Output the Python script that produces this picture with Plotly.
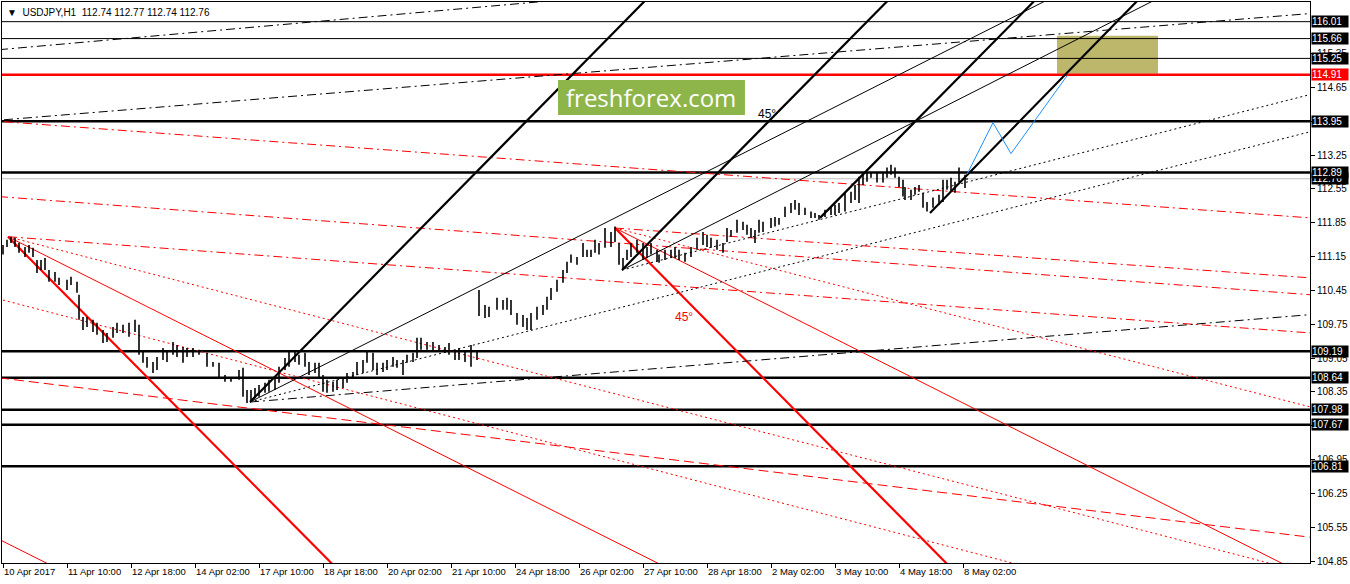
import plotly.graph_objects as go

# USDJPY H1 bars, x = bar number counted from 10 Apr 02:00
bar_index = [0, 2, 4, 6, 8, 11, 13, 15, 17, 19,
             21, 23, 26, 28, 32, 34, 37, 38, 40, 42,
             45, 47, 50, 52, 55, 57, 60, 63, 66, 68,
             70, 72, 75, 77, 80, 82, 85, 87, 90, 92,
             95, 98, 102, 105, 108, 111, 114, 118, 120, 122,
             124, 126, 128, 131, 133, 136, 138, 141, 143, 146,
             148, 151, 153, 156, 158, 160, 162, 165, 167, 170,
             172, 175, 177, 180, 182, 185, 187, 190, 192, 195,
             197, 200, 202, 205, 207, 209, 212, 215, 218, 221,
             223, 226, 228, 231, 234, 237, 238, 241, 243, 247,
             250, 252, 254, 257, 260, 262, 264, 267, 270, 272,
             274, 277, 280, 282, 284, 287, 290, 292, 294, 296,
             298, 301, 304, 306, 308, 310, 312, 314, 317, 320,
             322, 324, 327, 328, 331, 334, 336, 338, 341, 344,
             347, 350, 352, 354, 357, 360, 362, 364, 367, 370,
             372, 374, 376, 378, 380, 384, 386, 388, 391, 394,
             396, 398, 401, 404, 406, 408, 411, 414, 416, 418,
             421, 424, 426, 428, 430, 432, 434, 437, 440, 442,
             444, 446, 448, 450, 451, 454, 456, 458, 460, 462,
             465, 468, 470, 472, 474, 476, 478, 481, 482]
bar_high = [111.39, 111.50, 111.56, 111.54, 111.43, 111.35, 111.39, 111.33, 111.08, 111.08,
            111.12, 110.87, 110.83, 110.71, 110.67, 110.73, 110.63, 110.36, 109.90, 109.90,
            109.84, 109.78, 109.63, 109.57, 109.69, 109.78, 109.74, 109.78, 109.84, 109.74,
            109.18, 109.07, 108.97, 109.07, 109.26, 109.18, 109.38, 109.32, 109.28, 109.26,
            109.26, 109.22, 109.16, 108.97, 108.95, 108.70, 108.66, 108.80, 108.85, 108.39,
            108.39, 108.43, 108.49, 108.54, 108.60, 108.66, 108.87, 109.05, 109.18, 109.18,
            109.12, 109.16, 108.97, 108.95, 108.95, 108.70, 108.60, 108.56, 108.60, 108.66,
            108.74, 108.76, 108.97, 109.01, 109.18, 109.16, 108.95, 108.95, 109.01, 109.07,
            109.01, 109.01, 109.12, 109.16, 109.47, 109.47, 109.38, 109.38, 109.32, 109.28,
            109.36, 109.22, 109.26, 109.18, 109.32, 109.18, 110.46, 110.15, 110.11, 110.30,
            110.25, 110.30, 110.25, 109.98, 109.94, 109.88, 109.98, 110.11, 110.15, 110.32,
            110.50, 110.67, 110.87, 111.04, 111.19, 111.14, 111.43, 111.29, 111.29, 111.50,
            111.43, 111.74, 111.66, 111.77, 111.43, 111.12, 111.29, 111.43, 111.50, 111.43,
            111.35, 111.43, 111.29, 111.19, 111.29, 111.29, 111.35, 111.29, 111.23, 111.35,
            111.54, 111.66, 111.60, 111.54, 111.50, 111.43, 111.74, 111.70, 111.91, 111.87,
            111.81, 111.74, 111.70, 111.91, 111.87, 111.95, 111.97, 111.95, 112.18, 112.26,
            112.32, 112.26, 112.16, 112.08, 112.05, 112.01, 112.12, 112.18, 112.22, 112.26,
            112.47, 112.49, 112.63, 112.80, 112.84, 112.88, 112.90, 112.88, 112.88, 112.99,
            113.05, 112.99, 112.80, 112.74, 112.59, 112.53, 112.59, 112.63, 112.47, 112.28,
            112.37, 112.43, 112.74, 112.74, 112.78, 112.70, 112.99, 112.84, 112.77]
bar_low = [111.19, 111.35, 111.43, 111.35, 111.23, 111.14, 111.23, 111.14, 110.81, 110.87,
           110.87, 110.63, 110.63, 110.56, 110.46, 110.56, 110.40, 109.84, 109.63, 109.69,
           109.59, 109.53, 109.36, 109.38, 109.47, 109.57, 109.57, 109.49, 109.59, 109.12,
           108.95, 108.85, 108.74, 108.80, 109.01, 108.97, 109.12, 109.07, 108.95, 109.07,
           109.07, 109.12, 108.87, 108.87, 108.66, 108.56, 108.56, 108.60, 108.25, 108.12,
           108.14, 108.22, 108.25, 108.33, 108.35, 108.39, 108.54, 108.80, 108.87, 108.97,
           108.91, 108.87, 108.70, 108.74, 108.66, 108.35, 108.33, 108.35, 108.39, 108.43,
           108.54, 108.66, 108.70, 108.74, 108.95, 108.80, 108.70, 108.76, 108.80, 108.87,
           108.85, 108.70, 108.95, 108.97, 109.05, 109.22, 109.22, 109.18, 109.18, 109.16,
           109.12, 109.01, 109.01, 108.97, 108.87, 109.01, 109.92, 109.88, 109.90, 110.05,
           110.05, 110.05, 109.94, 109.74, 109.69, 109.63, 109.63, 109.84, 109.94, 110.05,
           110.25, 110.42, 110.61, 110.81, 111.02, 110.98, 111.14, 111.14, 111.14, 111.23,
           111.19, 111.33, 111.35, 111.45, 110.98, 110.87, 111.08, 111.14, 111.23, 111.08,
           111.12, 111.19, 111.04, 111.02, 111.08, 111.12, 111.12, 111.08, 111.04, 111.14,
           111.29, 111.39, 111.35, 111.33, 111.29, 111.23, 111.45, 111.56, 111.64, 111.70,
           111.60, 111.54, 111.43, 111.64, 111.66, 111.74, 111.77, 111.81, 111.97, 112.05,
           112.12, 112.01, 112.01, 111.95, 111.95, 111.91, 111.97, 112.01, 112.01, 112.05,
           112.08, 112.26, 112.32, 112.26, 112.63, 112.70, 112.78, 112.68, 112.68, 112.78,
           112.84, 112.78, 112.59, 112.39, 112.32, 112.32, 112.43, 112.49, 112.16, 112.08,
           112.16, 112.22, 112.28, 112.53, 112.49, 112.47, 112.68, 112.57, 112.74]

tick_bars = [0, 32, 64, 96, 128, 160, 192, 224, 256, 288, 320, 352, 384, 416, 448, 480]
tick_text = ["10 Apr 2017", "11 Apr 10:00", "12 Apr 18:00", "14 Apr 02:00", "17 Apr 10:00",
             "18 Apr 18:00", "20 Apr 02:00", "21 Apr 10:00", "24 Apr 18:00", "26 Apr 02:00",
             "27 Apr 10:00", "28 Apr 18:00", "2 May 02:00", "3 May 10:00", "4 May 18:00",
             "8 May 02:00"]
price_ticks = [104.85, 105.55, 106.25, 106.95, 107.65, 108.35, 109.05, 109.75, 110.45,
               111.15, 111.85, 112.55, 113.25, 113.95, 114.65, 115.35]
# tick values whose label sits under a level box on the scale
hidden_ticks = [107.65, 113.95]

# horizontal levels
levels_thin = [116.01, 115.66, 115.25]
levels_thick = [113.95, 112.89, 109.19, 108.64, 107.98, 107.67, 106.81]
level_red = 114.91
bid_price = 112.76

# trend lines: ((bar, price), (bar, price))
black_thick = [((123.5, 108.14), (331.4, 116.88)), ((309.5, 110.87), (452.75, 116.88)),
               ((408.5, 111.95), (526.2, 116.88)), ((463.5, 112.05), (577.5, 116.88))]
black_thin = [((123.5, 108.14), (542.3, 116.88)), ((309.5, 110.87), (596.0, 116.88))]
black_dot = [((309.5, 110.87), (660, 114.57)), ((123.5, 108.14), (660, 113.80))]
black_dashdot = [((123.5, 108.14), (660, 109.97)), ((-2, 115.43), (393.5, 116.88)),
                 ((0.5, 113.98), (660, 116.20))]
red_thick = [((2.5, 111.56), (172.5, 104.46)), ((306, 111.74), (479.9, 104.46))]
red_thin = [((2.5, 111.56), (344, 104.46)), ((306, 111.74), (655.9, 104.46)),
            ((-3.5, 105.33), (38.5, 104.46))]
red_dashdot = [((0.5, 113.94), (660, 111.93)), ((-2, 112.39), (660, 110.34)),
               ((2.5, 111.56), (660, 109.55)), ((306, 111.74), (660, 110.69))]
red_dash = [((-2, 108.64), (660, 105.31))]
red_dot = [((306, 111.74), (660, 107.97)), ((2.5, 111.56), (665.5, 104.46)),
           ((0, 110.25), (537, 104.46))]

# projected path and target zone
path_bars = [482, 495, 504, 532]
path_prices = [112.85, 113.92, 113.28, 114.89]
zone_bars = [527, 577.5]
zone_prices = [114.93, 115.72]

fig = go.Figure()


def add_lines(segs, color, width, dash="solid"):
    xs, ys = [], []
    for (b0, p0), (b1, p1) in segs:
        xs += [b0, b1, None]
        ys += [p0, p1, None]
    fig.add_trace(go.Scatter(x=xs, y=ys, mode="lines", hoverinfo="skip",
                             line=dict(color=color, width=width, dash=dash)))


# target zone
fig.add_shape(type="rect", x0=zone_bars[0], x1=zone_bars[1], y0=zone_prices[0], y1=zone_prices[1],
              fillcolor="#bdb76b", line=dict(width=0), layer="below")

# levels
for lv in levels_thin:
    add_lines([((-5, lv), (660, lv))], "black", 1)
add_lines([((-5, bid_price), (660, bid_price))], "#c0c0c0", 1)
for lv in levels_thick:
    add_lines([((-5, lv), (660, lv))], "black", 2.5)
add_lines([((-5, level_red), (660, level_red))], "#ff0000", 2.5)

add_lines(red_dot, "#ff0000", 1, "2px,3px")
add_lines(red_dash, "#ff0000", 1, "10px,5px")
add_lines(red_dashdot, "#ff0000", 1, "9px,4px,2px,4px")
add_lines(red_thin, "#ff0000", 1)
add_lines(red_thick, "#ff0000", 2.2)
add_lines(black_dot, "black", 1, "2px,3px")
add_lines(black_dashdot, "black", 1, "9px,4px,2px,4px")
add_lines(black_thin, "black", 1)
add_lines(black_thick, "black", 2.2)

# price bars
bx, by = [], []
for b, h, l in zip(bar_index, bar_high, bar_low):
    bx += [b, b, None]
    by += [l, h, None]
fig.add_trace(go.Scatter(x=bx, y=by, mode="lines", hoverinfo="skip",
                         line=dict(color="black", width=1.6)))

fig.add_trace(go.Scatter(x=path_bars, y=path_prices, mode="lines", hoverinfo="skip",
                         line=dict(color="#1e90ff", width=1)))

# watermark
fig.add_shape(type="rect", xref="paper", yref="paper", x0=0.4251, x1=0.568, y0=0.7986, y1=0.861,
              fillcolor="#8db54a", line=dict(width=0))
fig.add_annotation(xref="paper", yref="paper", x=0.4965, y=0.829, xanchor="center",
                   yanchor="middle", text="freshforex.com", showarrow=False,
                   font=dict(family="Open Sans", size=24, color="white"))

fig.add_annotation(x=382, y=114.10, text="45°", showarrow=False,
                   font=dict(family="Liberation Sans", size=12, color="black"))
fig.add_annotation(x=340.5, y=109.90, text="45°", showarrow=False,
                   font=dict(family="Liberation Sans", size=12, color="#ff0000"))

fig.add_annotation(xref="paper", yref="paper", x=0.002, y=0.981, xanchor="left", yanchor="middle",
                   text="▼  USDJPY,H1  112.74 112.77 112.74 112.76", showarrow=False,
                   font=dict(family="Liberation Sans", size=10, color="black"))

# price labels on the right axis
label_levels = levels_thin + [bid_price] + levels_thick
for lv in label_levels:
    fig.add_annotation(xref="paper", yref="y", x=1, y=lv, xanchor="left", yanchor="middle",
                       xshift=1, text="%.2f" % lv, showarrow=False, bgcolor="black",
                       borderpad=0, width=36, height=11, align="left",
                       font=dict(family="Liberation Sans", size=10, color="white"))
fig.add_annotation(xref="paper", yref="y", x=1, y=level_red, xanchor="left", yanchor="middle",
                   xshift=1, text="%.2f" % level_red, showarrow=False, bgcolor="#ff0000",
                   borderpad=0, width=36, height=11, align="left",
                   font=dict(family="Liberation Sans", size=10, color="white"))

fig.update_layout(
    width=1350, height=584,
    margin=dict(l=2, r=40, t=2, b=21),
    paper_bgcolor="white", plot_bgcolor="white",
    showlegend=False,
    xaxis=dict(range=[-0.5, 653.5], tickvals=tick_bars, ticktext=tick_text, tickangle=0,
               ticks="outside", ticklen=4, tickcolor="black", ticklabelposition="outside right",
               showline=True, linecolor="black", linewidth=1, mirror=True,
               showgrid=False, zeroline=False, automargin=False,
               tickfont=dict(family="Liberation Sans", size=9.5, color="black")),
    yaxis=dict(range=[104.809, 116.417], side="right", tickvals=price_ticks,
               ticktext=["" if v in hidden_ticks else "%.2f" % v for v in price_ticks],
               ticks="outside", ticklen=4, tickcolor="black",
               showline=True, linecolor="black", linewidth=1, mirror=True,
               showgrid=False, zeroline=False, automargin=False,
               tickfont=dict(family="Liberation Sans", size=10, color="black")),
)

fig.write_html("out.html", config={"displayModeBar": False},
               post_script="document.body.style.margin='0px';document.body.style.overflow='hidden';")
